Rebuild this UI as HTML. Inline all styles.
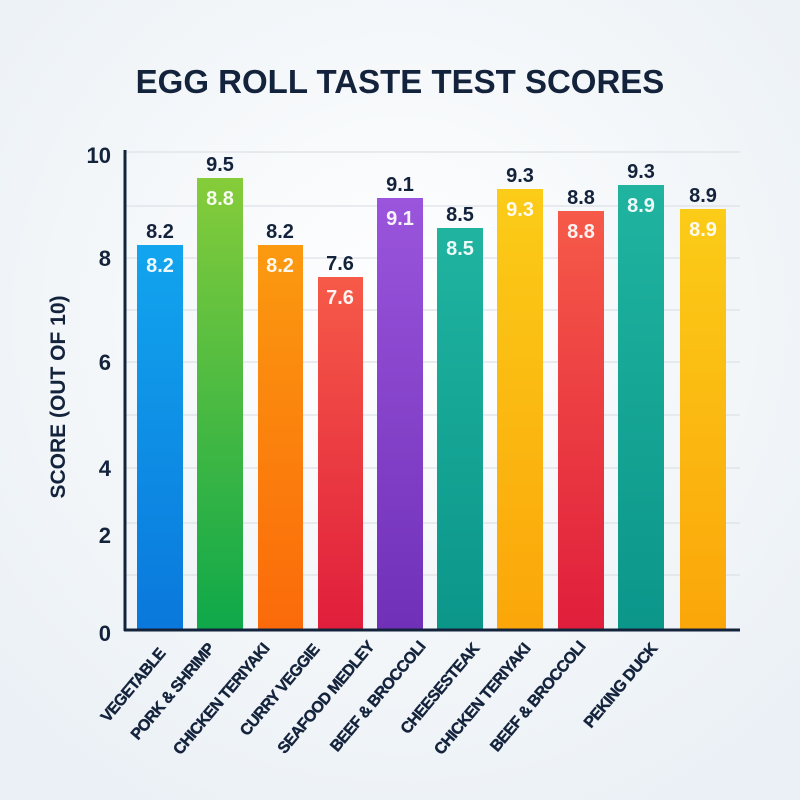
<!DOCTYPE html>
<html><head><meta charset="utf-8"><style>
html,body{margin:0;padding:0;width:800px;height:800px;overflow:hidden;background:#f4f7fa}
</style></head><body>
<svg width="800" height="800" viewBox="0 0 800 800" xmlns="http://www.w3.org/2000/svg" font-family="'Liberation Sans',sans-serif">
<defs>
<radialGradient id="bg" cx="50%" cy="40%" r="70%"><stop offset="0" stop-color="#ffffff"/><stop offset="1" stop-color="#eaf0f5"/></radialGradient>
<linearGradient id="g0" x1="0" y1="0" x2="0" y2="1"><stop offset="0" stop-color="#12a5ee"/><stop offset="1" stop-color="#0a78dc"/></linearGradient>
<linearGradient id="g1" x1="0" y1="0" x2="0" y2="1"><stop offset="0" stop-color="#86cc3a"/><stop offset="1" stop-color="#0ea84a"/></linearGradient>
<linearGradient id="g2" x1="0" y1="0" x2="0" y2="1"><stop offset="0" stop-color="#fb9a10"/><stop offset="1" stop-color="#fb6a0a"/></linearGradient>
<linearGradient id="g3" x1="0" y1="0" x2="0" y2="1"><stop offset="0" stop-color="#f65a48"/><stop offset="1" stop-color="#e01e3c"/></linearGradient>
<linearGradient id="g4" x1="0" y1="0" x2="0" y2="1"><stop offset="0" stop-color="#9a55dc"/><stop offset="1" stop-color="#7030b8"/></linearGradient>
<linearGradient id="g5" x1="0" y1="0" x2="0" y2="1"><stop offset="0" stop-color="#20b4a0"/><stop offset="1" stop-color="#0b968a"/></linearGradient>
<linearGradient id="g6" x1="0" y1="0" x2="0" y2="1"><stop offset="0" stop-color="#fbcc18"/><stop offset="1" stop-color="#fba60a"/></linearGradient>
</defs>
<rect width="800" height="800" fill="url(#bg)"/>
<text x="400" y="93" text-anchor="middle" font-weight="bold" font-size="33" fill="#14233c">EGG ROLL TASTE TEST SCORES</text>
<g stroke="#d6dce2" stroke-width="1">
<line x1="125" y1="152" x2="740" y2="152"/><line x1="125" y1="206" x2="740" y2="206"/><line x1="125" y1="258" x2="740" y2="258"/><line x1="125" y1="310" x2="740" y2="310"/><line x1="125" y1="362" x2="740" y2="362"/><line x1="125" y1="415" x2="740" y2="415"/><line x1="125" y1="468" x2="740" y2="468"/><line x1="125" y1="523" x2="740" y2="523"/><line x1="125" y1="575" x2="740" y2="575"/>
</g>
<g font-weight="bold" font-size="22" fill="#14233c" text-anchor="end">
<text x="111" y="163">10</text><text x="111" y="266">8</text><text x="111" y="370">6</text><text x="111" y="476">4</text><text x="111" y="543">2</text><text x="111" y="641">0</text>
</g>
<text transform="translate(65,397) rotate(-90)" text-anchor="middle" font-weight="bold" font-size="21" fill="#14233c">SCORE (OUT OF 10)</text>
<g>
<rect x="137" y="245" width="46" height="385" fill="url(#g0)"/>
<rect x="197" y="178" width="46" height="452" fill="url(#g1)"/>
<rect x="258" y="245" width="45" height="385" fill="url(#g2)"/>
<rect x="318" y="277" width="45" height="353" fill="url(#g3)"/>
<rect x="377" y="198" width="46" height="432" fill="url(#g4)"/>
<rect x="437" y="228" width="46" height="402" fill="url(#g5)"/>
<rect x="497" y="189" width="46" height="441" fill="url(#g6)"/>
<rect x="558" y="211" width="46" height="419" fill="url(#g3)"/>
<rect x="618" y="185" width="46" height="445" fill="url(#g5)"/>
<rect x="680" y="209" width="46" height="421" fill="url(#g6)"/>
</g>
<g font-weight="bold" font-size="20" fill="#14233c" text-anchor="middle">
<text x="160" y="238">8.2</text><text x="220" y="171">9.5</text><text x="280" y="238">8.2</text><text x="340" y="270">7.6</text><text x="400" y="191">9.1</text><text x="460" y="221">8.5</text><text x="520" y="182">9.3</text><text x="581" y="204">8.8</text><text x="641" y="178">9.3</text><text x="703" y="202">8.9</text>
</g>
<g font-weight="bold" font-size="20" fill="#ffffff" fill-opacity="0.92" text-anchor="middle">
<text x="160" y="272">8.2</text><text x="220" y="205">8.8</text><text x="280" y="272">8.2</text><text x="340" y="304">7.6</text><text x="400" y="225">9.1</text><text x="460" y="255">8.5</text><text x="520" y="216">9.3</text><text x="581" y="238">8.8</text><text x="641" y="212">8.9</text><text x="703" y="236">8.9</text>
</g>
<line x1="125" y1="150" x2="125" y2="631" stroke="#14233c" stroke-width="3"/>
<line x1="124" y1="630" x2="740" y2="630" stroke="#14233c" stroke-width="3"/>
<g font-weight="bold" font-size="16" letter-spacing="-0.7" fill="#14233c" stroke="#14233c" stroke-width="0.4" text-anchor="end">
<text transform="translate(166,654) rotate(-50)">VEGETABLE</text>
<text transform="translate(215,649) rotate(-50)">PORK &amp; SHRIMP</text>
<text transform="translate(270,649) rotate(-50)">CHICKEN TERIYAKI</text>
<text transform="translate(320,650) rotate(-50)">CURRY VEGGIE</text>
<text transform="translate(375,647) rotate(-50)">SEAFOOD MEDLEY</text>
<text transform="translate(426,647) rotate(-50)">BEEF &amp; BROCCOLI</text>
<text transform="translate(480,649) rotate(-50)">CHEESESTEAK</text>
<text transform="translate(531,649) rotate(-50)">CHICKEN TERIYAKI</text>
<text transform="translate(586,647) rotate(-50)">BEEF &amp; BROCCOLI</text>
<text transform="translate(658,649) rotate(-50)">PEKING DUCK</text>
</g>
</svg>
</body></html>
